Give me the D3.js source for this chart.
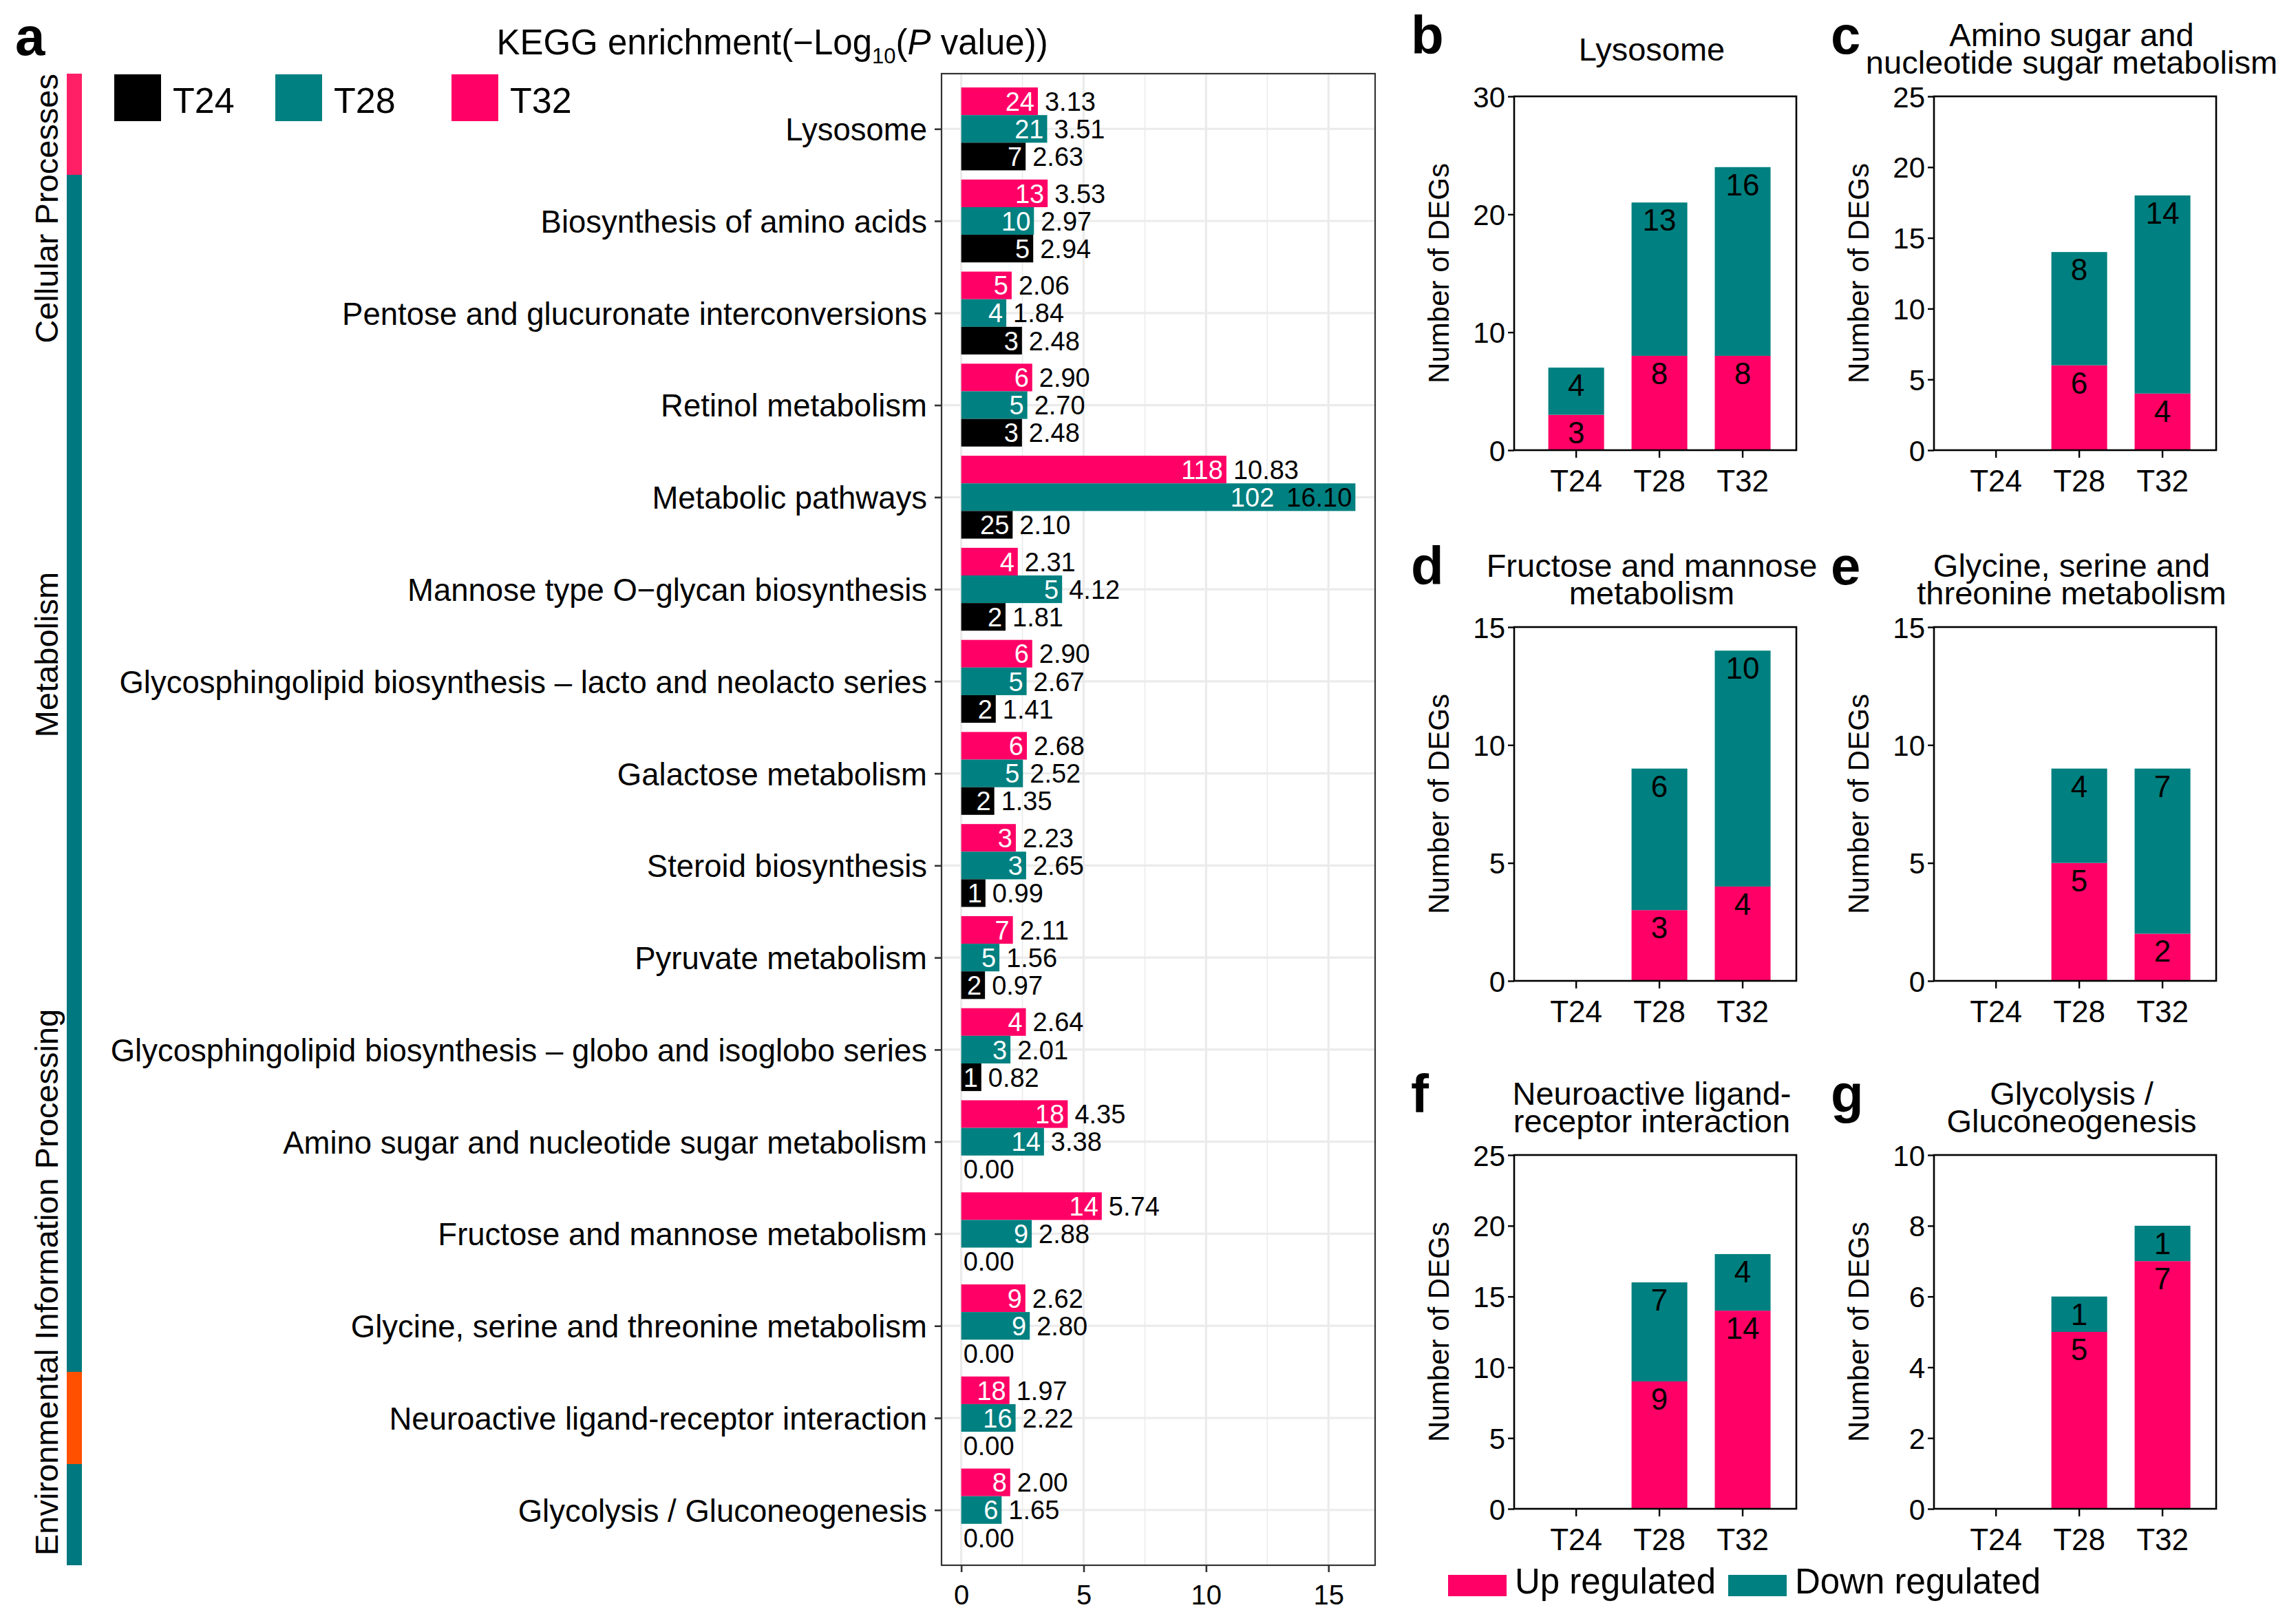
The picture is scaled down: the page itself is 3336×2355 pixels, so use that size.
<!DOCTYPE html>
<html><head><meta charset="utf-8">
<script src="https://cdn.jsdelivr.net/npm/d3@7"></script>
<style>
body{margin:0;background:#fff}
svg{display:block}
text{font-family:"Liberation Sans",Arial,Helvetica,sans-serif}
</style>
</head><body>
<svg id="chart" width="3336" height="2355"></svg>
<script>
// ---------------- DATA ----------------
const categories = [
  "Lysosome",
  "Biosynthesis of amino acids",
  "Pentose and glucuronate interconversions",
  "Retinol metabolism",
  "Metabolic pathways",
  "Mannose type O\u2212glycan biosynthesis",
  "Glycosphingolipid biosynthesis \u2013 lacto and neolacto series",
  "Galactose metabolism",
  "Steroid biosynthesis",
  "Pyruvate metabolism",
  "Glycosphingolipid biosynthesis \u2013 globo and isoglobo series",
  "Amino sugar and nucleotide sugar metabolism",
  "Fructose and mannose metabolism",
  "Glycine, serine and threonine metabolism",
  "Neuroactive ligand-receptor interaction",
  "Glycolysis / Gluconeogenesis"
];
const categoryGroups = [
  "Cellular Processes","Metabolism","Metabolism","Metabolism","Metabolism","Metabolism",
  "Metabolism","Metabolism","Metabolism","Metabolism","Metabolism","Metabolism",
  "Metabolism","Metabolism","Environmental Information Processing","Metabolism"
];
const timePoints = ["T24","T28","T32"];
const logP_T32 = [3.13,3.53,2.06,2.90,10.83,2.31,2.90,2.68,2.23,2.11,2.64,4.35,5.74,2.62,1.97,2.00];
const count_T32 = [24,13,5,6,118,4,6,6,3,7,4,18,14,9,18,8];
const logP_T28 = [3.51,2.97,1.84,2.70,16.10,4.12,2.67,2.52,2.65,1.56,2.01,3.38,2.88,2.80,2.22,1.65];
const count_T28 = [21,10,4,5,102,5,5,5,3,5,3,14,9,9,16,6];
const logP_T24 = [2.63,2.94,2.48,2.48,2.10,1.81,1.41,1.35,0.99,0.97,0.82,0,0,0,0,0];
const count_T24 = [7,5,3,3,25,2,2,2,1,2,1,0,0,0,0,0];
const xTicksA = [0,5,10,15];
const xMinorA = [2.5,7.5,12.5];

const panelLetters = ["b","c","d","e","f","g"];
const panelTitles = [
  ["Lysosome"],
  ["Amino sugar and","nucleotide sugar metabolism"],
  ["Fructose and mannose","metabolism"],
  ["Glycine, serine and","threonine metabolism"],
  ["Neuroactive ligand-","receptor interaction"],
  ["Glycolysis /","Gluconeogenesis"]
];
const upRegulated   = [[3,8,8],[0,6,4],[0,3,4],[0,5,2],[0,9,14],[0,5,7]];
const downRegulated = [[4,13,16],[0,8,14],[0,6,10],[0,4,7],[0,7,4],[0,1,1]];
const yMaxPanels  = [30,25,15,15,25,10];
const yStepPanels = [10,5,5,5,5,2];
const legendLabels = ["Up regulated","Down regulated"];

// ---------------- STYLE ----------------
const PINK = "#FF0066", TEAL = "#008080", BLACK = "#000000";
const colorA = {T24:BLACK, T28:TEAL, T32:PINK};
const stripColor = {"Cellular Processes":"#FF1F66","Metabolism":"#00787F","Environmental Information Processing":"#FF5000"};

const svg = d3.select("#chart");

// ---------------- PANEL A ----------------
const A = {left:1368, right:1998, top:107, bottom:2274};
const x = d3.scaleLinear().domain([-0.805, 16.905]).range([A.left, A.right]);
const y = d3.scalePoint().domain(categories).range([A.top, A.bottom]).padding(0.6);
const step = y.step();
const sub = d3.scaleBand().domain(["T32","T28","T24"]).range([-0.45*step, 0.45*step]);

const gA = svg.append("g");
// grid
gA.selectAll(".minor").data(xMinorA).join("line")
  .attr("x1",d=>x(d)).attr("x2",d=>x(d)).attr("y1",A.top).attr("y2",A.bottom)
  .attr("stroke","#EBEBEB").attr("stroke-width",1.6);
gA.selectAll(".major").data(xTicksA).join("line")
  .attr("x1",d=>x(d)).attr("x2",d=>x(d)).attr("y1",A.top).attr("y2",A.bottom)
  .attr("stroke","#EBEBEB").attr("stroke-width",3.2);
gA.selectAll(".hgrid").data(categories).join("line")
  .attr("x1",A.left).attr("x2",A.right).attr("y1",d=>y(d)).attr("y2",d=>y(d))
  .attr("stroke","#EBEBEB").attr("stroke-width",3.2);

const seriesA = {
  T24:{v:logP_T24, n:count_T24},
  T28:{v:logP_T28, n:count_T28},
  T32:{v:logP_T32, n:count_T32}
};
const recs = [];
categories.forEach((c,i)=>{
  ["T32","T28","T24"].forEach(tp=>{
    recs.push({cat:c, tp:tp, v:seriesA[tp].v[i], n:seriesA[tp].n[i]});
  });
});

gA.selectAll(".bar").data(recs).join("rect")
  .attr("x",x(0)).attr("width",d=>Math.max(0,x(d.v)-x(0)))
  .attr("y",d=>y(d.cat)+sub(d.tp)).attr("height",sub.bandwidth())
  .attr("fill",d=>colorA[d.tp]);

// labels
recs.forEach(d=>{
  const cy = y(d.cat)+sub(d.tp)+sub.bandwidth()/2;
  const xe = x(d.v);
  const vl = gA.append("text").attr("font-size",38).attr("dy","0.36em")
    .attr("y",cy).attr("fill","#000").text(d.v.toFixed(2));
  let inside = false;
  if (d.v === 0) {
    vl.attr("x",x(0)+3).attr("text-anchor","start");
  } else {
    vl.attr("x",xe+10).attr("text-anchor","start");
    const w = vl.node().getComputedTextLength();
    if (xe+10+w > A.right-2) {
      inside = true;
      vl.attr("x",xe-5).attr("text-anchor","end");
    }
  }
  if (d.n > 0) {
    let cx = xe-5;
    if (inside) cx = xe-5-vl.node().getComputedTextLength()-18;
    gA.append("text").attr("font-size",38).attr("dy","0.36em")
      .attr("x",cx).attr("y",cy).attr("text-anchor","end").attr("fill","#fff").text(d.n);
  }
});

// border
gA.append("rect").attr("x",A.left).attr("y",A.top).attr("width",A.right-A.left).attr("height",A.bottom-A.top)
  .attr("fill","none").attr("stroke","#333").attr("stroke-width",2.2);

// axes
const axB = gA.append("g").attr("transform",`translate(0,${A.bottom})`)
  .call(d3.axisBottom(x).tickValues(xTicksA).tickSize(10).tickPadding(19).tickFormat(d3.format("d")));
axB.select(".domain").remove();
axB.selectAll("line").attr("stroke","#333").attr("stroke-width",2.6);
axB.selectAll("text").attr("font-size",40).attr("fill","#000").attr("font-family",'"Liberation Sans",Arial,sans-serif');

const axL = gA.append("g").attr("transform",`translate(${A.left},0)`)
  .call(d3.axisLeft(y).tickSize(10).tickPadding(11));
axL.select(".domain").remove();
axL.selectAll("line").attr("stroke","#333").attr("stroke-width",2.6);
axL.selectAll("text").attr("font-size",45.5).attr("fill","#000").attr("dy","0.36em").attr("font-family",'"Liberation Sans",Arial,sans-serif');

// side strip: merge consecutive categories of the same group into one segment
const runs = [];
categories.forEach((c,i)=>{
  const grp = categoryGroups[i];
  const y0 = i===0 ? A.top : y(c)-step/2;
  const y1 = i===categories.length-1 ? A.bottom : y(c)+step/2;
  if (runs.length && runs[runs.length-1].grp === grp) runs[runs.length-1].y1 = y1;
  else runs.push({grp:grp, y0:y0, y1:y1});
});
gA.selectAll(".strip").data(runs).join("rect")
  .attr("x",97).attr("width",22).attr("y",d=>d.y0).attr("height",d=>d.y1-d.y0)
  .attr("fill",d=>stripColor[d.grp]).attr("shape-rendering","crispEdges");
// strip labels
const stripLabels = [
  {name:"Cellular Processes", y:A.top, anchor:"end"},
  {name:"Metabolism", y:951, anchor:"middle"},
  {name:"Environmental Information Processing", y:2260, anchor:"start"}
];
stripLabels.forEach(s=>{
  gA.append("text").attr("transform",`translate(84,${s.y}) rotate(-90)`)
    .attr("text-anchor",s.anchor).attr("font-size",47).attr("fill","#000").text(s.name);
});

// legend A
const legX = [166,400,656];
timePoints.forEach((tp,i)=>{
  gA.append("rect").attr("x",legX[i]).attr("y",108).attr("width",68).attr("height",68).attr("fill",colorA[tp]);
  gA.append("text").attr("x",legX[i]+85).attr("y",164).attr("font-size",52).attr("fill","#000").text(tp);
});

// title A
const tA = svg.append("text").attr("x",1122).attr("y",79).attr("text-anchor","middle").attr("font-size",51).attr("fill","#000");
tA.append("tspan").text("KEGG enrichment(\u2212Log");
tA.append("tspan").attr("font-size",31).attr("dy",13).text("10");
tA.append("tspan").attr("dy",-13).text("(");
tA.append("tspan").attr("font-style","italic").text("P");
tA.append("tspan").text(" value))");
svg.append("text").attr("x",22).attr("y",80).attr("font-size",78).attr("font-weight","bold").text("a");

// ---------------- PANELS B-G ----------------
const colLeft = [2200, 2810], rowTop = [140, 911, 1678], PW = 410, PH = 514;

panelLetters.forEach((letter,p)=>{
  const L = colLeft[p%2], T = rowTop[Math.floor(p/2)];
  const g = svg.append("g");
  const xs = d3.scaleBand().domain(timePoints).range([L, L+PW]).paddingInner(0.33).paddingOuter(0.36).align(0.57);
  const ys = d3.scaleLinear().domain([0, yMaxPanels[p]]).range([T+PH, T]);
  const rows = timePoints.map((tp,i)=>({tp:tp, up:upRegulated[p][i], down:downRegulated[p][i]}));
  const stack = d3.stack().keys(["up","down"])(rows);
  const col = {up:PINK, down:TEAL};
  stack.forEach(layer=>{
    layer.forEach(seg=>{
      const val = seg[1]-seg[0];
      if (val <= 0) return;
      g.append("rect").attr("x",xs(seg.data.tp)).attr("width",xs.bandwidth())
        .attr("y",ys(seg[1])).attr("height",ys(seg[0])-ys(seg[1])).attr("fill",col[layer.key]);
      g.append("text").attr("x",xs(seg.data.tp)+xs.bandwidth()/2).attr("y",ys(seg[1])+41)
        .attr("text-anchor","middle").attr("font-size",44).attr("fill","#000").text(val);
    });
  });
  g.append("rect").attr("x",L).attr("y",T).attr("width",PW).attr("height",PH)
    .attr("fill","none").attr("stroke","#000").attr("stroke-width",2.6);
  const ay = g.append("g").attr("transform",`translate(${L},0)`)
    .call(d3.axisLeft(ys).tickValues(d3.range(0, yMaxPanels[p]+0.001, yStepPanels[p])).tickSize(9).tickPadding(4).tickFormat(d3.format("d")));
  ay.select(".domain").remove();
  ay.selectAll("line").attr("stroke","#000").attr("stroke-width",2.4);
  ay.selectAll("text").attr("font-size",42).attr("fill","#000").attr("dy","0.36em").attr("font-family",'"Liberation Sans",Arial,sans-serif');
  const ax = g.append("g").attr("transform",`translate(0,${T+PH})`)
    .call(d3.axisBottom(xs).tickSize(11).tickPadding(18));
  ax.select(".domain").remove();
  ax.selectAll("line").attr("stroke","#000").attr("stroke-width",2.4);
  ax.selectAll("text").attr("font-size",44).attr("fill","#000").attr("font-family",'"Liberation Sans",Arial,sans-serif');
  // y title
  g.append("text").attr("transform",`translate(${L-95},${T+PH/2}) rotate(-90)`)
    .attr("text-anchor","middle").attr("font-size",42).attr("fill","#000").text("Number of DEGs");
  // title
  const lines = panelTitles[p];
  const cx = L + PW/2 - 5;
  if (lines.length === 1) {
    g.append("text").attr("x",cx).attr("y",T-52).attr("text-anchor","middle").attr("font-size",47).text(lines[0]);
  } else {
    lines.forEach((ln,k)=>{
      g.append("text").attr("x",cx).attr("y",T-73+k*40).attr("text-anchor","middle").attr("font-size",47).text(ln);
    });
  }
  // letter
  g.append("text").attr("x",L-150).attr("y",T-62).attr("font-size",78).attr("font-weight","bold").text(letter);
});

// bottom legend
const legColors = [PINK, TEAL];
const legBX = [2104, 2511];
legendLabels.forEach((lab,i)=>{
  svg.append("rect").attr("x",legBX[i]).attr("y",2288).attr("width",85).attr("height",31).attr("fill",legColors[i]);
  svg.append("text").attr("x",legBX[i]+97).attr("y",2315).attr("font-size",51).attr("fill","#000").text(lab);
});
</script>
</body></html>
